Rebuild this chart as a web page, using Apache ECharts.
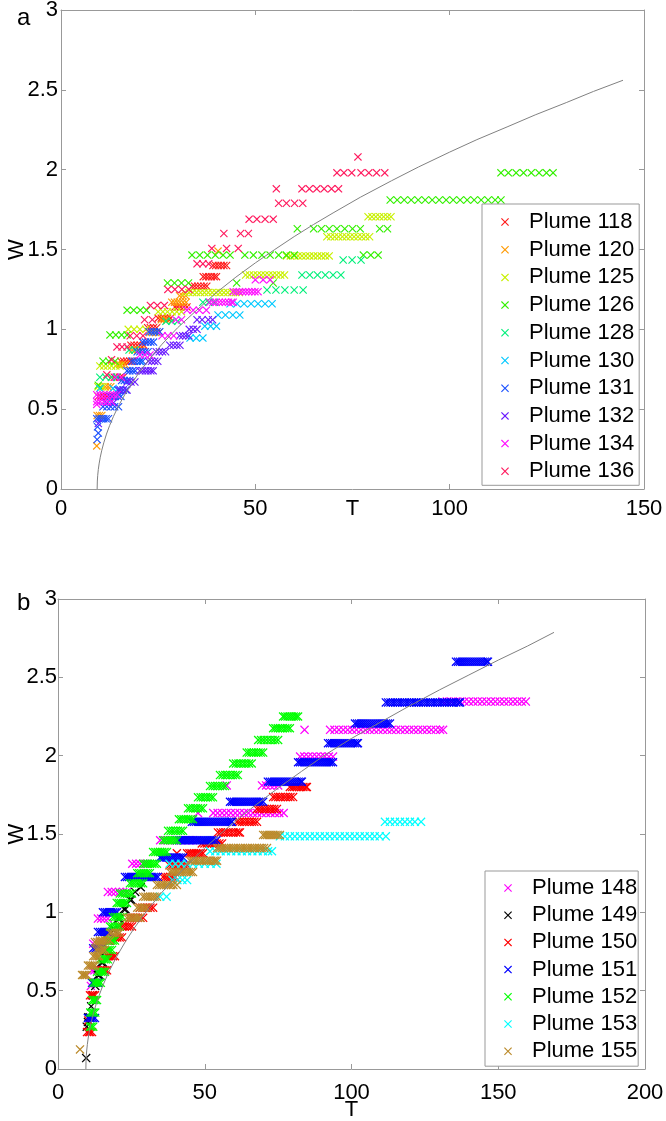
<!DOCTYPE html>
<html>
<head>
<meta charset="utf-8">
<title>Plume width W against T</title>
<script src="https://cdn.jsdelivr.net/npm/echarts@6.0.0/dist/echarts.min.js"></script>
<style>
    html, body { margin: 0; padding: 0; background: #fff; }
    #chart { width: 666px; height: 1121px; }
</style>
</head>
<body>
<div id="chart"></div>
<script>
// each row: [W, T, T, T ...]
var p118 = [
    [0.58, 9.6, 10.3, 11.0, 11.8, 12.6, 13.4],
    [0.70, 13.0, 13.7, 14.4, 15.2, 16.0],
    [0.80, 15.4, 16.1, 16.9, 17.7, 18.4],
    [0.90, 18.0, 18.8, 19.6, 20.4, 21.3],
    [1.01, 22.3, 23.0, 23.8, 24.6],
    [1.07, 25.0, 25.8, 26.6, 27.4, 28.2],
    [1.14, 29.3, 30.0, 30.8, 31.6, 32.4],
    [1.27, 33.7, 34.4, 35.2, 36.0, 36.8, 37.5],
    [1.33, 36.6, 37.3, 38.0, 38.7, 39.4, 40.0],
    [1.40, 39.1, 39.8, 40.5, 41.2, 41.9, 42.6]
];
var p120 = [
    [0.27, 9.2],
    [0.46, 9.3, 9.9, 10.5],
    [0.64, 11.4, 12.1, 12.8],
    [0.78, 14.4, 15.1, 15.8, 16.5],
    [0.87, 18.4, 19.1, 19.8, 20.6],
    [0.98, 22.8, 23.6, 24.4, 25.2],
    [1.06, 25.8, 26.5, 27.2],
    [1.17, 28.5, 29.2, 29.9, 30.6, 31.4, 32.2],
    [1.21, 30.5, 31.3, 32.1],
    [1.49, 40.4]
];
var p125 = [
    [0.64, 9.5, 10.2, 10.8],
    [0.77, 10.0, 11.0, 12.0, 13.0, 14.1, 15.2],
    [1.00, 17.3, 18.8, 20.3, 21.8],
    [1.11, 25.0, 26.2, 27.4, 28.6, 29.8, 31.0],
    [1.23, 31.9, 32.9, 33.9, 34.9, 35.9, 36.9, 37.9, 38.9, 39.9, 40.9, 41.9, 42.9, 43.9, 44.9, 45.9],
    [1.34, 47.5, 48.5, 49.5, 50.5, 51.5, 52.5, 53.5, 54.5, 55.5, 56.5, 57.5],
    [1.46, 58.0, 59.0, 60.0, 61.0, 62.0, 63.0, 64.0, 65.0, 66.0, 67.0, 68.0, 69.0],
    [1.58, 68.4, 69.4, 70.4, 71.4, 72.4, 73.4, 74.4, 75.4, 76.4, 77.4, 78.4, 79.4],
    [1.705, 79.0, 80.0, 81.0, 82.0, 83.0, 84.0, 84.9]
];
var p126 = [
    [0.65, 9.6],
    [0.80, 10.8, 12.3, 13.9],
    [0.965, 12.6, 14.1, 15.6, 17.0],
    [1.12, 17.0, 18.7, 20.4, 22.0],
    [1.29, 27.4, 29.2, 31.0, 32.8, 45.2, 54.6],
    [1.465, 33.7, 35.7, 37.7, 39.7, 41.7, 43.5, 47.3, 49.5, 51.7, 53.8, 56.0, 58.0, 60.0, 77.8, 79.7, 81.6],
    [1.63, 60.8, 65.0, 67.0, 69.0, 71.0, 73.0, 75.0, 77.0, 82.0, 84.0],
    [1.81, 84.7, 86.5, 88.3, 90.1, 91.9, 93.7, 95.5, 97.3, 99.1, 100.9, 102.7, 104.5, 106.3, 108.1, 109.9, 111.7, 113.2],
    [1.98, 113.2, 115.1, 117.1, 119.0, 121.0, 123.0, 124.9, 126.6]
];
var p128 = [
    [0.70, 10.0, 11.5, 13.0, 14.4],
    [0.87, 17.5, 19.0],
    [1.05, 27.0, 28.5, 30.0],
    [1.17, 36.5, 38.0, 39.5],
    [1.246, 53.0, 55.3, 57.6, 60.0, 62.3],
    [1.34, 62.0, 64.0, 66.0, 68.0, 70.0, 72.0],
    [1.434, 72.6, 74.9, 77.2]
];
var p130 = [
    [0.55, 12.5],
    [0.63, 10.0, 13.4],
    [0.80, 20.5],
    [0.945, 33.2, 34.8, 36.5],
    [1.02, 37.0, 38.5, 40.0],
    [1.09, 40.4, 42.3, 44.2, 46.0],
    [1.16, 43.5, 45.3, 47.1, 48.9, 50.7, 52.5, 54.3]
];
var p131 = [
    [0.31, 9.3],
    [0.35, 9.6],
    [0.39, 9.4],
    [0.44, 9.2, 9.8, 10.4, 11.0, 11.6, 12.2],
    [0.515, 10.8, 11.8, 12.8, 13.8, 14.8],
    [0.58, 12.6, 13.3, 14.0, 14.7, 15.4],
    [0.62, 14.6, 15.3, 16.0, 16.7],
    [0.68, 15.6, 16.3, 17.0, 17.7],
    [0.74, 17.0, 17.7, 18.4, 19.1],
    [0.80, 18.2, 18.9, 19.6, 20.3, 21.0],
    [0.86, 19.6, 20.3, 21.0, 21.7, 22.4],
    [0.92, 21.0, 21.7, 22.4, 23.1, 23.8],
    [0.985, 22.6, 23.3, 24.0, 24.7, 25.4]
];
var p132 = [
    [0.41, 9.6],
    [0.54, 11.7, 13.5],
    [0.62, 15.0, 16.0, 17.0],
    [0.67, 17.0, 18.0, 19.0],
    [0.74, 20.3, 21.0, 21.7, 22.4, 23.1, 23.7],
    [0.80, 22.5, 23.3, 24.1, 24.9],
    [0.86, 24.5, 25.3, 26.1, 26.9],
    [0.90, 28.0, 28.9, 29.8, 30.6],
    [0.96, 30.5, 31.3, 32.1, 32.9],
    [1.00, 33.0, 34.0, 35.0],
    [1.06, 35.0, 36.3, 37.9, 39.0]
];
var p134 = [
    [0.53, 9.2],
    [0.547, 9.2, 10.1, 11.0, 12.0, 13.0],
    [0.59, 9.2, 10.0, 10.9, 11.8, 12.7, 13.6, 14.4],
    [0.70, 14.0, 15.5],
    [0.84, 20.3, 21.6, 22.9],
    [0.96, 26.0, 27.5, 29.0],
    [1.06, 29.5, 31.0],
    [1.12, 32.4, 34.0, 35.6, 37.4],
    [1.17, 38.3, 39.1, 39.9, 40.7, 41.5, 42.3, 43.1, 43.9, 44.3],
    [1.236, 44.3, 45.1, 45.9, 46.7, 47.5, 48.3, 49.1, 49.9, 50.7],
    [1.31, 50.0, 52.0, 53.8]
];
var p136 = [
    [0.715, 11.8],
    [0.81, 13.0],
    [0.89, 14.4, 15.7, 17.0],
    [0.96, 17.8, 19.5, 21.1],
    [1.06, 21.5, 23.5],
    [1.15, 23.0, 24.8, 26.6],
    [1.25, 27.5, 29.3, 31.1, 32.9],
    [1.41, 35.0, 36.5, 38.0],
    [1.507, 38.8, 42.6, 45.6],
    [1.60, 41.9, 46.2, 48.2],
    [1.69, 48.4, 50.4, 52.5, 54.6],
    [1.79, 56.0, 58.0, 60.1, 62.2],
    [1.88, 55.4, 62.0, 63.9, 65.8, 67.7, 69.6, 71.4],
    [1.98, 71.0, 72.8, 74.8, 77.2, 79.2, 81.2, 83.3],
    [2.08, 76.4]
];

var p148 = [
    [0.53, 11.2],
    [0.63, 11.6, 12.4, 13.3],
    [0.80, 12.0, 13.1, 14.2, 15.3],
    [0.96, 13.6, 14.7, 15.8, 17.0],
    [1.13, 17.0, 18.3, 19.6, 20.9, 22.2, 23.5],
    [1.31, 25.3, 26.6, 27.9, 29.2, 30.3],
    [1.46, 34.8, 36.2, 37.6, 39.0, 40.4, 41.8, 43.2, 44.6, 46.0, 47.4],
    [1.634, 47.7, 52.9, 54.4, 55.9, 57.4, 58.9, 60.4, 61.9, 63.4, 64.9, 66.4, 67.9, 69.4, 70.9, 72.4, 73.9, 75.4, 76.9],
    [1.81, 57.5, 69.5, 70.9, 72.3, 73.7, 75.0],
    [1.994, 82.5, 83.9, 85.3, 86.7, 88.1, 89.5, 90.9, 92.3, 93.7],
    [2.165, 84.0, 92.7, 94.2, 95.7, 97.2, 98.7, 100.2, 101.7, 103.2, 104.7, 106.2, 107.7, 109.2, 110.7, 112.2, 113.7, 115.2, 116.7, 118.2, 119.7, 121.2, 122.7, 124.2, 125.7, 127.2, 128.7, 130.2, 131.2],
    [2.345, 131.0, 132.5, 134.0, 135.5, 137.0, 138.5, 140.0, 141.5, 143.0, 144.5, 146.0, 147.5, 149.0, 150.5, 152.0, 153.5, 155.0, 156.5, 158.0, 159.4]
];
var p149 = [
    [0.07, 9.6],
    [0.27, 9.8],
    [0.30, 10.2],
    [0.33, 10.3, 10.8],
    [0.40, 11.3],
    [0.47, 11.9],
    [0.53, 12.7],
    [0.60, 13.6, 14.1],
    [0.68, 14.8, 15.3],
    [0.75, 15.8, 16.3],
    [0.82, 17.2, 17.7],
    [0.89, 18.8, 19.3],
    [0.96, 20.5, 21.0],
    [1.02, 22.5, 23.0],
    [1.08, 24.5, 25.0],
    [1.13, 26.3],
    [1.16, 28.2]
];
var p150 = [
    [0.236, 9.9, 10.5, 11.0, 11.6],
    [0.31, 10.3],
    [0.47, 10.9, 11.5, 12.0, 12.6],
    [0.55, 11.8, 12.6],
    [0.63, 14.3, 14.9, 15.5, 16.1, 16.7],
    [0.72, 16.7, 17.4, 18.0, 18.7, 19.4],
    [0.84, 18.7, 19.5, 20.2, 21.0, 21.8],
    [0.91, 21.1, 21.9, 22.7, 23.6, 24.4, 25.2],
    [0.965, 24.5, 25.4, 26.3, 27.2, 28.1, 29.0],
    [1.03, 27.9, 28.8, 29.7, 30.6, 31.5, 32.4],
    [1.226, 35.8, 36.6, 37.4, 38.3, 39.1, 39.9],
    [1.30, 38.0, 38.9, 39.7, 40.6, 41.4, 42.3, 43.1, 44.0],
    [1.377, 40.5, 44.0, 44.8, 45.5, 46.3, 47.1, 47.9, 48.6, 49.4],
    [1.44, 49.0, 49.9, 50.7, 51.6, 52.4, 53.3, 54.1, 55.0, 55.9],
    [1.51, 54.5, 55.4, 56.3, 57.2, 58.0, 58.9, 59.8, 60.7, 61.5, 62.0],
    [1.578, 61.0, 61.8, 62.7, 63.5, 64.4, 65.2, 66.1, 66.9, 67.8],
    [1.66, 67.8, 68.6, 69.5, 70.3, 71.2, 72.0, 72.9, 73.7, 74.6],
    [1.736, 73.3, 74.1, 75.0, 75.8, 76.7, 77.5, 78.4, 79.2, 80.1],
    [1.80, 79.0, 79.8, 80.5, 81.3, 82.1, 82.9, 83.6, 84.4, 84.8]
];
var p151 = [
    [0.325, 10.2, 10.8, 11.4, 12.0, 12.6],
    [0.55, 11.6, 12.3, 13.0, 13.6],
    [0.77, 12.0, 12.8, 13.5, 14.3, 15.0],
    [0.875, 13.6, 14.3, 15.0, 15.6, 16.3, 17.0, 17.7],
    [1.00, 15.3, 16.0, 16.7, 17.4, 18.1, 18.8, 19.5, 20.1],
    [1.226, 22.8, 23.5, 24.2, 24.9, 25.6, 26.3, 27.0, 27.7, 28.4, 29.1, 29.8, 30.5, 31.2, 31.9, 32.6, 33.3, 34.0],
    [1.35, 34.8, 35.5, 36.2, 36.9, 37.6, 38.3, 39.0, 39.7, 40.4, 41.1, 41.8, 42.6],
    [1.46, 40.5, 41.2, 41.9, 42.6, 43.3, 44.0, 44.7, 45.4, 46.1, 46.8, 47.5, 48.2, 48.9, 49.6, 50.3, 51.0, 51.7, 52.4, 53.1, 54.0],
    [1.578, 45.6, 46.3, 47.0, 47.7, 48.4, 49.1, 49.8, 50.5, 51.2, 51.9, 52.6, 53.3, 54.0, 54.7, 55.4, 56.1, 56.8, 57.5, 58.2, 58.9, 59.3],
    [1.706, 58.6, 59.3, 60.0, 60.7, 61.4, 62.1, 62.8, 63.5, 64.2, 64.9, 65.6, 66.3, 67.0, 67.7, 68.4, 69.1, 69.9],
    [1.834, 71.5, 72.2, 72.9, 73.6, 74.3, 75.0, 75.7, 76.4, 77.1, 77.8, 78.5, 79.2, 79.9, 80.6, 81.3, 82.0, 82.7, 83.1],
    [1.958, 81.8, 82.5, 83.2, 83.9, 84.6, 85.3, 86.0, 86.7, 87.4, 88.1, 88.8, 89.5, 90.2, 90.9, 91.6, 92.3, 93.0, 93.7],
    [2.08, 92.0, 92.7, 93.4, 94.1, 94.8, 95.5, 96.2, 96.9, 97.6, 98.3, 99.0, 99.7, 100.4, 101.1, 101.8, 102.2],
    [2.205, 101.2, 101.9, 102.6, 103.3, 104.0, 104.7, 105.4, 106.1, 106.8, 107.5, 108.2, 108.9, 109.6, 110.3, 111.0, 111.7, 112.4, 113.1],
    [2.34, 111.7, 112.5, 113.3, 114.1, 114.9, 115.7, 116.5, 117.3, 118.1, 118.9, 119.7, 120.5, 121.3, 122.1, 122.9, 123.7, 124.5, 125.3, 126.1, 126.9, 127.7, 128.5, 129.3, 130.1, 130.9, 131.7, 132.5, 133.3, 134.1, 134.9, 135.7, 136.5, 137.0],
    [2.60, 135.6, 136.3, 137.0, 137.7, 138.4, 139.1, 139.8, 140.5, 141.2, 141.9, 142.6, 143.3, 144.0, 144.7, 145.4, 146.1, 146.5]
];
var p152 = [
    [0.27, 10.9, 11.4, 12.0],
    [0.36, 11.0, 11.6, 12.1, 12.7],
    [0.44, 11.6, 12.2, 12.8, 13.3],
    [0.55, 12.0, 12.7, 13.3, 14.0, 14.6],
    [0.62, 13.3, 14.0, 14.7, 15.3, 16.0],
    [0.70, 14.3, 15.0, 15.7, 16.3, 17.0],
    [0.76, 15.4, 16.1, 16.9, 17.6, 18.4],
    [0.82, 16.7, 17.4, 18.1, 18.7, 19.4],
    [0.91, 17.7, 18.5, 19.3, 20.2, 21.0],
    [0.97, 18.7, 19.5, 20.3, 21.2, 22.0],
    [1.06, 20.0, 20.7, 21.4, 22.1, 22.8, 23.5],
    [1.12, 21.1, 21.9, 22.7, 23.6, 24.4, 25.2],
    [1.185, 24.5, 25.3, 26.0, 26.8, 27.5, 28.3, 29.0],
    [1.25, 27.0, 27.7, 28.4, 29.2, 29.9, 30.6, 31.3],
    [1.31, 29.0, 29.8, 30.6, 31.3, 32.1, 32.9, 33.7],
    [1.385, 32.4, 33.2, 34.0, 34.8, 35.5, 36.3, 37.1],
    [1.46, 35.8, 36.6, 37.4, 38.2, 38.9, 39.7, 40.5],
    [1.52, 37.5, 38.4, 39.2, 40.1, 40.9, 41.8, 42.6],
    [1.594, 41.2, 42.0, 42.8, 43.6, 44.4, 45.2, 46.0],
    [1.664, 44.3, 45.1, 46.0, 46.9, 47.7, 48.6, 49.4],
    [1.734, 47.7, 48.6, 49.4, 50.3, 51.1, 52.0, 52.8],
    [1.806, 51.8, 52.7, 53.5, 54.4, 55.2, 56.1, 56.9],
    [1.876, 55.2, 56.1, 57.0, 57.8, 58.7, 59.6, 60.5, 61.3],
    [1.95, 59.7, 60.6, 61.5, 62.4, 63.3, 64.2, 65.1, 66.0],
    [2.02, 64.3, 65.1, 65.9, 66.7, 67.5, 68.3, 69.1, 69.9],
    [2.10, 68.2, 69.2, 70.1, 71.1, 72.1, 73.1, 74.0, 75.0],
    [2.175, 73.3, 74.1, 74.9, 75.7, 76.5, 77.4, 78.2, 79.0],
    [2.25, 76.7, 77.4, 78.2, 78.9, 79.6, 80.3, 81.1, 81.8]
];
var p153 = [
    [1.10, 34.8, 37.0],
    [1.206, 39.0, 40.7, 42.4, 44.0],
    [1.31, 38.0, 40.0, 42.0, 44.0, 46.0, 48.0, 50.0, 52.0, 54.0],
    [1.39, 51.8, 53.6, 55.4, 57.2, 59.0, 60.8, 62.6, 64.4, 66.2, 68.0, 69.8, 71.6, 72.9],
    [1.485, 75.6, 77.3, 79.0, 80.7, 82.4, 84.1, 85.8, 87.5, 89.2, 90.9, 92.6, 94.3, 96.0, 97.7, 99.4, 101.1, 102.8, 104.5, 106.2, 107.9, 109.6, 111.7],
    [1.578, 111.4, 113.1, 114.8, 116.5, 118.2, 119.9, 121.6, 123.7]
];
var p155 = [
    [0.125, 7.5],
    [0.60, 8.2, 8.7, 9.3, 9.8],
    [0.66, 10.2, 10.8, 11.4, 12.0, 12.6],
    [0.72, 12.0, 12.7, 13.4, 14.0],
    [0.76, 13.0, 13.8, 14.6, 15.4, 16.0],
    [0.81, 12.6, 13.4, 14.2, 15.0],
    [0.82, 14.3, 15.1, 16.0, 16.8, 17.7],
    [0.87, 17.7, 18.5, 19.4, 20.2, 21.0],
    [0.965, 23.5, 24.3, 25.0, 25.8, 26.5, 27.3, 28.0],
    [1.03, 27.0, 27.8, 28.7, 29.5, 30.3],
    [1.10, 29.0, 29.8, 30.6, 31.4, 32.2, 32.9, 33.7],
    [1.175, 33.7, 34.5, 35.3, 36.1, 36.9, 37.7, 38.5, 39.3, 40.5],
    [1.257, 38.2, 39.0, 39.8, 40.6, 41.4, 42.2, 43.0, 43.8, 44.6, 45.3, 46.0],
    [1.33, 45.0, 45.8, 46.6, 47.4, 48.2, 49.0, 49.8, 50.6, 51.4, 52.2, 53.0, 53.6, 54.2],
    [1.41, 54.2, 55.0, 55.8, 56.6, 57.4, 58.2, 59.0, 59.8, 60.6, 61.4, 62.2, 63.0, 63.8, 64.6, 65.4, 66.2, 67.0, 67.8, 68.6, 69.4, 70.2, 71.2],
    [1.494, 69.9, 70.6, 71.3, 72.0, 72.7, 73.4, 74.1, 74.8, 75.6]
];

// grey fitted curves
var curveAT = [9.3, 9.35, 9.45, 9.6, 9.8, 10.1, 10.5, 11, 11.7, 12.5, 13.5, 15, 17, 20, 23, 26, 30, 35, 40, 45,
    50, 55, 60, 65, 70, 77, 85, 92, 100, 107, 115, 122, 130, 137, 144.6];
var curveAW = [0, 0.05, 0.086, 0.122, 0.157, 0.199, 0.243, 0.289, 0.344, 0.397, 0.455, 0.53, 0.616, 0.726, 0.822, 0.907, 1.01, 1.122, 1.23, 1.327,
    1.416, 1.50, 1.581, 1.657, 1.729, 1.827, 1.93, 2.017, 2.11, 2.188, 2.27, 2.343, 2.42, 2.49, 2.56];
var curveBT = [9.5, 9.55, 9.65, 9.8, 10, 10.3, 10.7, 11.2, 11.9, 12.7, 13.7, 15.2, 17.2, 20, 23, 26, 30, 35, 40, 45,
    50, 55, 60, 67, 75, 83, 91, 100, 110, 120, 130, 140, 150, 160, 169];
var curveBW = [0, 0.05, 0.086, 0.121, 0.157, 0.198, 0.243, 0.289, 0.343, 0.396, 0.454, 0.529, 0.615, 0.718, 0.814, 0.90, 1.003, 1.119, 1.224, 1.32,
    1.41, 1.495, 1.575, 1.68, 1.793, 1.90, 2.005, 2.11, 2.215, 2.32, 2.42, 2.515, 2.61, 2.70, 2.787];

var namesA = ['Plume 118', 'Plume 120', 'Plume 125', 'Plume 126', 'Plume 128',
    'Plume 130', 'Plume 131', 'Plume 132', 'Plume 134', 'Plume 136'];
var rowsA = [p118, p120, p125, p126, p128, p130, p131, p132, p134, p136];
var colorsA = ['#ff1a1a', '#ff9900', '#c8f000', '#33f000', '#00f07a',
    '#00c8ff', '#1a50ff', '#6a1aff', '#ff10ff', '#ff1a5e'];

var namesB = ['Plume 148', 'Plume 149', 'Plume 150', 'Plume 151', 'Plume 152', 'Plume 153', 'Plume 155'];
var rowsB = [p148, p149, p150, p151, p152, p153, p155];
var colorsB = ['#ff00ff', '#000000', '#ff0000', '#0000ff', '#00ff00', '#00ffff', '#bb8a2a'];

var FONT = '"Liberation Sans", Arial, Helvetica, sans-serif';
var AXIS_GREY = '#999';
// thin filled "x" marker
var CROSS = 'path://M0,1L1,0L5,4L9,0L10,1L6,5L10,9L9,10L5,6L1,10L0,9L4,5Z';

function toPoints(rows) {
    var pts = [];
    for (var i = 0; i < rows.length; i++) {
        for (var j = 1; j < rows[i].length; j++) {
            pts.push([rows[i][j], rows[i][0]]);
        }
    }
    return pts;
}

function zip(xs, ys) {
    var pts = [];
    for (var i = 0; i < xs.length; i++) {
        pts.push([xs[i], ys[i]]);
    }
    return pts;
}

function xAxisFor(grid, max, pos, label) {
    var ax = {
        gridIndex: grid, type: 'value', min: 0, max: max, interval: 50, position: pos,
        axisLine: { show: true, onZero: false, lineStyle: { color: AXIS_GREY, width: 1 } },
        axisTick: { show: true, inside: true, length: 5, lineStyle: { color: AXIS_GREY } },
        axisLabel: { show: false },
        splitLine: { show: false }
    };
    if (label) {
        ax.axisLabel = { show: true, fontSize: 22, color: '#000', fontFamily: FONT, margin: label.margin };
        ax.name = 'T';
        ax.nameLocation = 'middle';
        ax.nameGap = label.nameGap;
        ax.nameMoveOverlap = false;
        ax.nameTextStyle = { fontSize: 22, color: '#000', fontFamily: FONT };
    }
    return ax;
}

function yAxisFor(grid, pos, label) {
    var ax = {
        gridIndex: grid, type: 'value', min: 0, max: 3, interval: 0.5, position: pos,
        axisLine: { show: true, onZero: false, lineStyle: { color: AXIS_GREY, width: 1 } },
        axisTick: { show: true, inside: true, length: 5, lineStyle: { color: AXIS_GREY } },
        axisLabel: { show: false },
        splitLine: { show: false }
    };
    if (label) {
        ax.axisLabel = { show: true, fontSize: 22, color: '#000', fontFamily: FONT, margin: label.margin };
        ax.name = 'W';
        ax.nameLocation = 'middle';
        ax.nameGap = label.nameGap;
        ax.nameMoveOverlap = false;
        ax.nameTextStyle = { fontSize: 22, color: '#000', fontFamily: FONT };
    }
    return ax;
}

function plumeSeries(name, rows, color, panel, size) {
    return {
        name: name,
        type: 'scatter',
        xAxisIndex: panel * 2,
        yAxisIndex: panel * 2,
        symbol: CROSS,
        symbolSize: size,
        itemStyle: { color: color, opacity: 1 },
        emphasis: { disabled: true },
        silent: true,
        data: toPoints(rows)
    };
}

function curveSeries(xs, ys, panel) {
    return {
        type: 'line',
        xAxisIndex: panel * 2,
        yAxisIndex: panel * 2,
        showSymbol: false,
        smooth: false,
        silent: true,
        z: 3,
        lineStyle: { color: '#808080', width: 1 },
        data: zip(xs, ys)
    };
}

function legendFor(names, left, top, gap, padding) {
    return {
        data: names,
        orient: 'vertical',
        left: left,
        top: top,
        itemWidth: 38,
        itemHeight: 8,
        itemGap: gap,
        padding: padding,
        selectedMode: false,
        borderColor: AXIS_GREY,
        borderWidth: 1,
        borderRadius: 0,
        backgroundColor: '#fff',
        textStyle: { fontSize: 22, color: '#000', fontFamily: FONT, lineHeight: 22 }
    };
}

function init() {
    var chart = echarts.init(document.getElementById('chart'), null, { renderer: 'canvas' });

    var series = [];
    for (var i = 0; i < namesA.length; i++) {
        series.push(plumeSeries(namesA[i], rowsA[i], colorsA[i], 0, 8));
    }
    for (var k = 0; k < namesB.length; k++) {
        series.push(plumeSeries(namesB[k], rowsB[k], colorsB[k], 1, 9));
    }
    series.push(curveSeries(curveAT, curveAW, 0));
    series.push(curveSeries(curveBT, curveBW, 1));

    var option = {
        animation: false,
        backgroundColor: '#fff',
        title: [
            { text: 'a', left: 17, top: 6, padding: 0, textStyle: { fontSize: 24, fontWeight: 'normal', color: '#000', fontFamily: FONT } },
            { text: 'b', left: 17, top: 591, padding: 0, textStyle: { fontSize: 24, fontWeight: 'normal', color: '#000', fontFamily: FONT } }
        ],
        grid: [
            { left: 61, top: 10, width: 583, height: 479, containLabel: false, outerBoundsMode: 'none' },
            { left: 58, top: 599, width: 587, height: 470, containLabel: false, outerBoundsMode: 'none' }
        ],
        xAxis: [
            xAxisFor(0, 150, 'bottom', { margin: 9, nameGap: 9 }),
            xAxisFor(0, 150, 'top', null),
            xAxisFor(1, 200, 'bottom', { margin: 13, nameGap: 30 }),
            xAxisFor(1, 200, 'top', null)
        ],
        yAxis: [
            yAxisFor(0, 'left', { margin: 3, nameGap: 33 }),
            yAxisFor(0, 'right', null),
            yAxisFor(1, 'left', { margin: 1, nameGap: 30 }),
            yAxisFor(1, 'right', null)
        ],
        legend: [
            legendFor(namesA, 482, 204, 5.7, [7, 5, 3, 19]),
            legendFor(namesB, 485, 871, 5.2, [6, 1, 4, 19])
        ],
        series: series
    };

    chart.setOption(option);
}

window.addEventListener('load', init, false);
</script>
</body>
</html>
